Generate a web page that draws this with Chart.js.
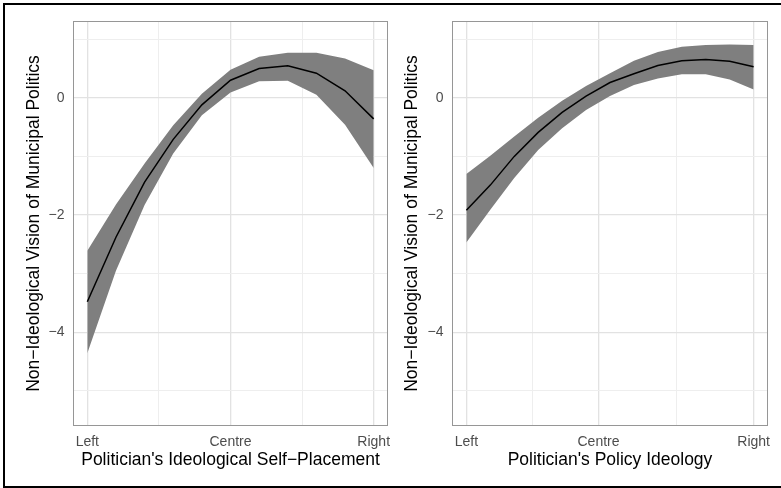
<!DOCTYPE html>
<html>
<head>
<meta charset="utf-8">
<script src="https://cdn.jsdelivr.net/npm/chart.js@4"></script>
<style>
	html, body { margin: 0; padding: 0; background: #fff; }
	#page { position: relative; width: 781px; height: 488px; overflow: hidden; }
	#frame {
		position: absolute; left: 3px; top: 3px; width: 778px; height: 485px;
		box-sizing: border-box; border-top: 2px solid #000; border-left: 2px solid #000;
		border-bottom: 2px solid #000; pointer-events: none;
	}
	canvas { position: absolute; top: 0; }
	#left { left: 0; }
	#right { left: 390px; }
</style>
</head>
<body>
<div id="page">
	<canvas id="left" width="390" height="488"></canvas>
	<canvas id="right" width="391" height="488"></canvas>
	<div id="frame"></div>
</div>
<script>
// left panel: self-placement 0..10
const selfX = [0, 1, 2, 3, 4, 5, 6, 7, 8, 9, 10];
const selfFit = [-3.48, -2.38, -1.44, -0.71, -0.12, 0.30, 0.50, 0.545, 0.42, 0.12, -0.36];
const selfUpper = [-2.61, -1.82, -1.12, -0.47, 0.07, 0.48, 0.70, 0.77, 0.77, 0.67, 0.47];
const selfLower = [-4.36, -2.95, -1.83, -0.95, -0.30, 0.09, 0.28, 0.29, 0.05, -0.46, -1.20];

// right panel: policy ideology
const policyX = [0, 1, 2, 3, 4, 5, 6, 7, 8, 9, 10, 11, 12];
const policyFit = [-1.92, -1.49, -1.00, -0.59, -0.25, 0.03, 0.26, 0.41, 0.55, 0.63, 0.655, 0.625, 0.53];
const policyUpper = [-1.30, -0.99, -0.66, -0.34, -0.05, 0.20, 0.42, 0.63, 0.78, 0.87, 0.90, 0.91, 0.90];
const policyLower = [-2.47, -1.91, -1.37, -0.89, -0.52, -0.21, 0.03, 0.22, 0.33, 0.40, 0.40, 0.31, 0.14];

const xTickLabels = ["Left", "Centre", "Right"];
const selfXTicks = [0, 5, 10];
const policyXTicks = [0, 5.52, 12];
const yTicks = [-4, -2, 0];
const yGrid = [-5, -4, -3, -2, -1, 0, 1];

Chart.defaults.font.family = "'Liberation Sans', Arial, sans-serif";

const minus = (v) => (v < 0 ? "\u2212" + Math.abs(v) : String(v));

// ggplot-style full panel border on top of the data
const panelBorder = {
	id: "panelBorder",
	afterDatasetsDraw(chart) {
		const { ctx, chartArea: a } = chart;
		ctx.save();
		ctx.strokeStyle = "#969696";
		ctx.lineWidth = 1;
		ctx.strokeRect(Math.round(a.left) + 0.5, Math.round(a.top) + 0.5,
			Math.round(a.right - a.left) - 1, Math.round(a.bottom - a.top) - 1);
		ctx.restore();
	},
};

const points = (xs, ys) => xs.map((x, i) => ({ x, y: ys[i] }));

const panel = ({ id, xs, fit, upper, lower, majors, xMin, xMax, xTitle, yWidth, yTitlePad, padRight }) => {
	// minor grid lines halfway between the labelled breaks
	const xGrid = [];
	majors.forEach((v, i) => {
		xGrid.push(v);
		if (i < majors.length - 1) xGrid.push((v + majors[i + 1]) / 2);
	});

	new Chart(document.getElementById(id), {
		type: "line",
		data: {
			datasets: [
				{ data: points(xs, fit), borderColor: "#000", borderWidth: 1.5, pointRadius: 0, fill: false },
				{ data: points(xs, upper), borderWidth: 0, pointRadius: 0, backgroundColor: "#7f7f7f", fill: "+1" },
				{ data: points(xs, lower), borderWidth: 0, pointRadius: 0, fill: false },
			],
		},
		options: {
			responsive: false,
			animation: false,
			events: [],
			layout: { padding: { top: 21, right: padRight, bottom: 0, left: 0 } },
			plugins: { legend: { display: false }, tooltip: { enabled: false } },
			scales: {
				x: {
					type: "linear",
					min: xMin,
					max: xMax,
					afterBuildTicks: (s) => { s.ticks = xGrid.map((v) => ({ value: v })); },
					afterFit: (s) => {
						s.height = 62;
						s.paddingLeft = 0;
						s.paddingRight = 0;
					},
					border: { display: false },
					grid: {
						drawTicks: false,
						color: (c) => (majors.includes(c.tick.value) ? "#e2e2e2" : "#eeeeee"),
						lineWidth: (c) => (majors.includes(c.tick.value) ? 1.3 : 1),
					},
					ticks: {
						autoSkip: false,
						maxRotation: 0,
						padding: 7.5,
						color: "#4d4d4d",
						font: { size: 14 },
						callback: (v) => {
							const i = majors.indexOf(v);
							return i < 0 ? "" : xTickLabels[i];
						},
					},
					title: {
						display: true,
						text: xTitle,
						color: "#000",
						font: { size: 17.5 },
						padding: { top: 0, bottom: 17 },
					},
				},
				y: {
					min: -5.6,
					max: 1.31,
					afterBuildTicks: (s) => { s.ticks = yGrid.map((v) => ({ value: v })); },
					afterFit: (s) => {
						s.width = yWidth;
						s.paddingTop = 0;
						s.paddingBottom = 0;
					},
					border: { display: false },
					grid: {
						drawTicks: false,
						color: (c) => (yTicks.includes(c.tick.value) ? "#e2e2e2" : "#eeeeee"),
						lineWidth: (c) => (yTicks.includes(c.tick.value) ? 1.3 : 1),
					},
					ticks: {
						autoSkip: false,
						padding: 8.5,
						color: "#4d4d4d",
						font: { size: 14 },
						callback: (v) => (yTicks.includes(v) ? minus(v) : ""),
					},
					title: {
						display: true,
						text: "Non\u2212Ideological Vision of Municipal Politics",
						color: "#000",
						font: { size: 17.5 },
						padding: { top: yTitlePad, bottom: 0 },
					},
				},
			},
		},
		plugins: [panelBorder],
	});
};

panel({
	id: "left",
	xs: selfX, fit: selfFit, upper: selfUpper, lower: selfLower,
	majors: selfXTicks, xMin: -0.5, xMax: 10.5,
	xTitle: "Politician's Ideological Self\u2212Placement",
	yWidth: 73, yTitlePad: 24, padRight: 2,
});

panel({
	id: "right",
	xs: policyX, fit: policyFit, upper: policyUpper, lower: policyLower,
	majors: policyXTicks, xMin: -0.6, xMax: 12.6,
	xTitle: "Politician's Policy Ideology",
	yWidth: 62, yTitlePad: 12, padRight: 13,
});
</script>
</body>
</html>
